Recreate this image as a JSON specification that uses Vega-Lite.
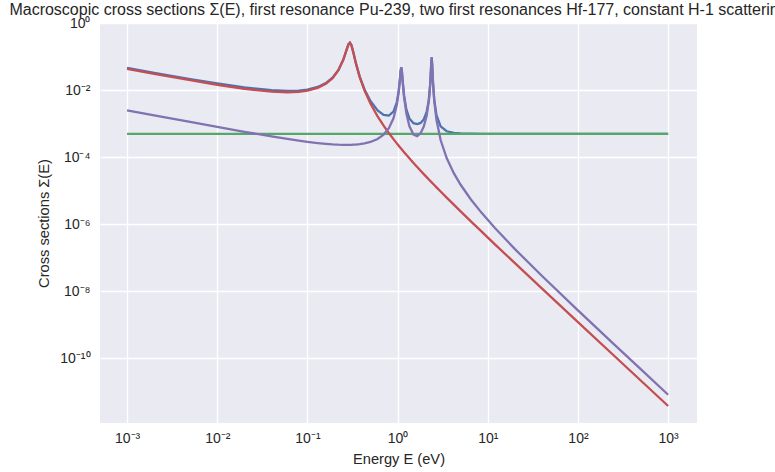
{
  "$schema": "https://vega.github.io/schema/vega-lite/v6.json",
  "width": 597,
  "height": 400,
  "autosize": {"type": "none"},
  "padding": {"left": 100, "top": 23, "right": 78, "bottom": 49},
  "background": "white",
  "title": {
    "text": "Macroscopic cross sections Σ(E), first resonance Pu-239, two first resonances Hf-177, constant H-1 scattering",
    "font": "Liberation Sans",
    "fontSize": 16,
    "fontWeight": "normal",
    "color": "#262626",
    "anchor": "middle",
    "offset": -2
  },
  "config": {
    "view": {"fill": "#EAEAF2", "stroke": null},
    "axis": {
      "grid": true,
      "gridColor": "#FFFFFF",
      "gridWidth": 1.33,
      "gridOpacity": 1,
      "domain": false,
      "ticks": false,
      "labelFont": "Liberation Sans",
      "labelFontSize": 14,
      "labelColor": "#262626",
      "titleFont": "Liberation Sans",
      "titleFontSize": 14.67,
      "titleFontWeight": "normal",
      "titleColor": "#262626"
    }
  },
  "data": {
    "values": [
      {"E": 0.001, "total": 0.04575, "h": 0.00049, "pu": 0.04277, "hf": 0.002485},
      {"E": 0.002, "total": 0.0327, "h": 0.00049, "pu": 0.03045, "hf": 0.001758},
      {"E": 0.005, "total": 0.02126, "h": 0.00049, "pu": 0.01965, "hf": 0.001116},
      {"E": 0.01, "total": 0.01567, "h": 0.00049, "pu": 0.01438, "hf": 0.0007947},
      {"E": 0.02, "total": 0.01197, "h": 0.00049, "pu": 0.01091, "hf": 0.0005698},
      {"E": 0.04, "total": 0.009857, "h": 0.00049, "pu": 0.008952, "hf": 0.0004144},
      {"E": 0.06, "total": 0.00942, "h": 0.00049, "pu": 0.008582, "hf": 0.0003482},
      {"E": 0.08, "total": 0.009647, "h": 0.00049, "pu": 0.008846, "hf": 0.0003106},
      {"E": 0.1, "total": 0.01035, "h": 0.00049, "pu": 0.009572, "hf": 0.0002862},
      {"E": 0.13, "total": 0.01236, "h": 0.00049, "pu": 0.0116, "hf": 0.0002629},
      {"E": 0.16, "total": 0.0161, "h": 0.00049, "pu": 0.01536, "hf": 0.0002485},
      {"E": 0.19, "total": 0.02329, "h": 0.00049, "pu": 0.02256, "hf": 0.0002396},
      {"E": 0.22, "total": 0.03897, "h": 0.00049, "pu": 0.03825, "hf": 0.0002344},
      {"E": 0.25, "total": 0.08087, "h": 0.00049, "pu": 0.08015, "hf": 0.0002319},
      {"E": 0.27, "total": 0.1506, "h": 0.00049, "pu": 0.1499, "hf": 0.0002314},
      {"E": 0.285, "total": 0.23, "h": 0.00049, "pu": 0.2293, "hf": 0.0002317},
      {"E": 0.296, "total": 0.2577, "h": 0.00049, "pu": 0.257, "hf": 0.0002321},
      {"E": 0.307, "total": 0.2217, "h": 0.00049, "pu": 0.2209, "hf": 0.0002328},
      {"E": 0.322, "total": 0.138, "h": 0.00049, "pu": 0.1373, "hf": 0.0002342},
      {"E": 0.345, "total": 0.06297, "h": 0.00049, "pu": 0.06225, "hf": 0.000237},
      {"E": 0.38, "total": 0.02512, "h": 0.00049, "pu": 0.02439, "hf": 0.0002432},
      {"E": 0.43, "total": 0.01039, "h": 0.00049, "pu": 0.009639, "hf": 0.0002561},
      {"E": 0.5, "total": 0.004731, "h": 0.00049, "pu": 0.003958, "hf": 0.0002831},
      {"E": 0.6, "total": 0.002483, "h": 0.00049, "pu": 0.001645, "hf": 0.0003481},
      {"E": 0.7, "total": 0.001825, "h": 0.00049, "pu": 0.0008659, "hf": 0.0004696},
      {"E": 0.8, "total": 0.001739, "h": 0.00049, "pu": 0.0005214, "hf": 0.0007277},
      {"E": 0.9, "total": 0.002271, "h": 0.00049, "pu": 0.0003426, "hf": 0.001438},
      {"E": 0.98, "total": 0.004307, "h": 0.00049, "pu": 0.0002562, "hf": 0.003561},
      {"E": 1.03, "total": 0.009732, "h": 0.00049, "pu": 0.000217, "hf": 0.009025},
      {"E": 1.06, "total": 0.02089, "h": 0.00049, "pu": 0.0001975, "hf": 0.0202},
      {"E": 1.08, "total": 0.03715, "h": 0.00049, "pu": 0.0001858, "hf": 0.03647},
      {"E": 1.098, "total": 0.04819, "h": 0.00049, "pu": 0.0001761, "hf": 0.04752},
      {"E": 1.115, "total": 0.03751, "h": 0.00049, "pu": 0.0001676, "hf": 0.03685},
      {"E": 1.14, "total": 0.01792, "h": 0.00049, "pu": 0.0001561, "hf": 0.01727},
      {"E": 1.18, "total": 0.006833, "h": 0.00049, "pu": 0.0001399, "hf": 0.006203},
      {"E": 1.25, "total": 0.002644, "h": 0.00049, "pu": 0.0001167, "hf": 0.002038},
      {"E": 1.35, "total": 0.001428, "h": 0.00049, "pu": 0.00009201, "hf": 0.000846},
      {"E": 1.5, "total": 0.001026, "h": 0.00049, "pu": 0.00006691, "hf": 0.000469},
      {"E": 1.65, "total": 0.0009633, "h": 0.00049, "pu": 0.00005045, "hf": 0.0004229},
      {"E": 1.8, "total": 0.001047, "h": 0.00049, "pu": 0.00003915, "hf": 0.0005179},
      {"E": 1.95, "total": 0.001332, "h": 0.00049, "pu": 0.0000311, "hf": 0.000811},
      {"E": 2.1, "total": 0.002229, "h": 0.00049, "pu": 0.0000252, "hf": 0.001714},
      {"E": 2.22, "total": 0.005187, "h": 0.00049, "pu": 0.00002155, "hf": 0.004676},
      {"E": 2.3, "total": 0.01532, "h": 0.00049, "pu": 0.00001951, "hf": 0.01481},
      {"E": 2.35, "total": 0.04744, "h": 0.00049, "pu": 0.00001837, "hf": 0.04694},
      {"E": 2.388, "total": 0.09473, "h": 0.00049, "pu": 0.00001757, "hf": 0.09422},
      {"E": 2.42, "total": 0.05473, "h": 0.00049, "pu": 0.00001693, "hf": 0.05423},
      {"E": 2.47, "total": 0.01658, "h": 0.00049, "pu": 0.000016, "hf": 0.01607},
      {"E": 2.55, "total": 0.005168, "h": 0.00049, "pu": 0.00001465, "hf": 0.004663},
      {"E": 2.7, "total": 0.00178, "h": 0.00049, "pu": 0.00001252, "hf": 0.001277},
      {"E": 3.0, "total": 0.0008227, "h": 0.00049, "pu": 0.000009385, "hf": 0.0003234},
      {"E": 3.5, "total": 0.0005896, "h": 0.00049, "pu": 0.000006188, "hf": 0.00009336},
      {"E": 4.2, "total": 0.0005269, "h": 0.00049, "pu": 0.000003805, "hf": 0.00003308},
      {"E": 5.0, "total": 0.0005074, "h": 0.00049, "pu": 0.000002402, "hf": 0.00001495},
      {"E": 6.5, "total": 0.0004967, "h": 0.00049, "pu": 0.000001211, "hf": 0.000005449},
      {"E": 8.5, "total": 0.0004928, "h": 0.00049, "pu": 6.057e-7, "hf": 0.000002205},
      {"E": 12, "total": 0.000491, "h": 0.00049, "pu": 2.505e-7, "hf": 7.656e-7},
      {"E": 20, "total": 0.0004902, "h": 0.00049, "pu": 6.846e-8, "hf": 1.8e-7},
      {"E": 40, "total": 0.00049, "h": 0.00049, "pu": 1.192e-8, "hf": 2.829e-8},
      {"E": 100, "total": 0.00049, "h": 0.00049, "pu": 1.196e-9, "hf": 2.677e-9},
      {"E": 250, "total": 0.00049, "h": 0.00049, "pu": 1.206e-10, "hf": 2.64e-10},
      {"E": 500, "total": 0.00049, "h": 0.00049, "pu": 2.129e-11, "hf": 4.626e-11},
      {"E": 1000, "total": 0.00049, "h": 0.00049, "pu": 3.761e-12, "hf": 8.143e-12}
    ]
  },
  "transform": [
    {"fold": ["total", "h", "pu", "hf"], "as": ["series", "value"]}
  ],
  "encoding": {
    "x": {
      "field": "E",
      "type": "quantitative",
      "scale": {"type": "log", "domain": [0.00050119, 2089.3], "nice": false},
      "axis": {
        "title": "Energy E (eV)",
        "values": [0.001, 0.01, 0.1, 1, 10, 100, 1000],
        "labelPadding": 8,
        "titlePadding": 6,
        "labelExpr": "'10' + replace(replace(replace(replace(replace(replace(replace(replace(replace(replace(replace('' + round(log(datum.value)/LN10), '-', '⁻'), '0', '⁰'), '1', '¹'), '2', '²'), '3', '³'), '4', '⁴'), '5', '⁵'), '6', '⁶'), '7', '⁷'), '8', '⁸'), '9', '⁹')"
      }
    },
    "y": {
      "field": "value",
      "type": "quantitative",
      "scale": {"type": "log", "domain": [1.17e-12, 1], "nice": false},
      "axis": {
        "title": "Cross sections Σ(E)",
        "values": [1, 0.01, 0.0001, 0.000001, 1e-8, 1e-10],
        "labelPadding": 10,
        "titlePadding": 8,
        "labelExpr": "'10' + replace(replace(replace(replace(replace(replace(replace(replace(replace(replace(replace('' + round(log(datum.value)/LN10), '-', '⁻'), '0', '⁰'), '1', '¹'), '2', '²'), '3', '³'), '4', '⁴'), '5', '⁵'), '6', '⁶'), '7', '⁷'), '8', '⁸'), '9', '⁹')"
      }
    }
  },
  "layer": [
    {
      "transform": [{"filter": "datum.series == 'total'"}],
      "mark": {"type": "line", "color": "#4C72B0", "strokeWidth": 2.3}
    },
    {
      "transform": [{"filter": "datum.series == 'h'"}],
      "mark": {"type": "line", "color": "#55A868", "strokeWidth": 2.3}
    },
    {
      "transform": [{"filter": "datum.series == 'pu'"}],
      "mark": {"type": "line", "color": "#C44E52", "strokeWidth": 2.3}
    },
    {
      "transform": [{"filter": "datum.series == 'hf'"}],
      "mark": {"type": "line", "color": "#8172B2", "strokeWidth": 2.3}
    }
  ]
}
